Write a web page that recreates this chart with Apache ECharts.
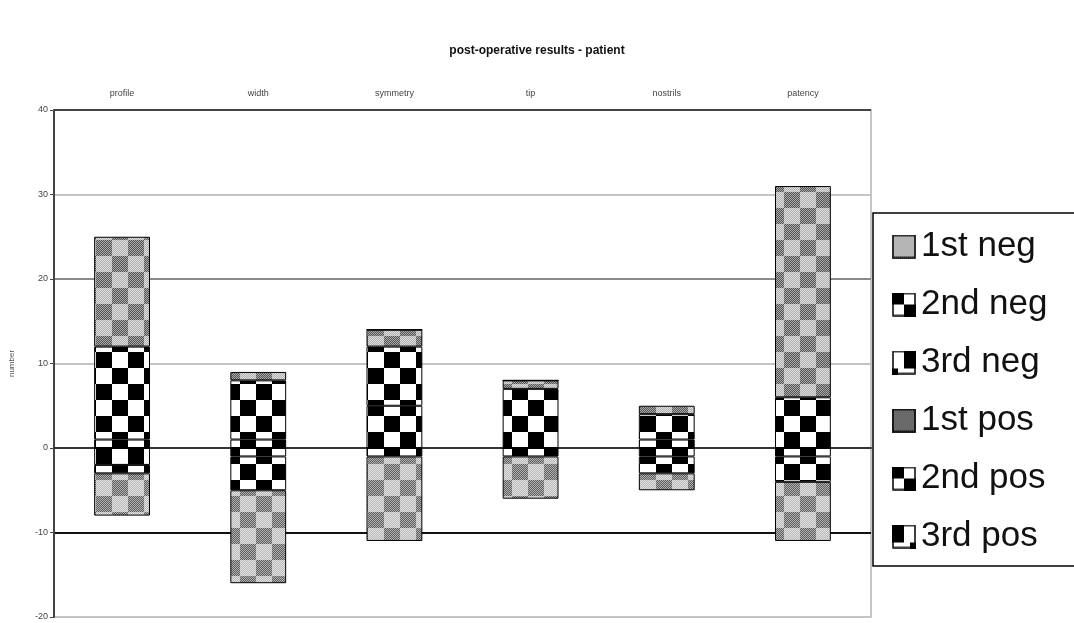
<!DOCTYPE html>
<html>
<head>
<meta charset="utf-8">
<title>post-operative results - patient</title>
<script src="https://cdn.jsdelivr.net/npm/echarts@6/dist/echarts.min.js"></script>
<style>
  html, body { margin: 0; padding: 0; background: #fff; }
  #chart { width: 1074px; height: 623px; }
</style>
</head>
<body>
<div id="chart"></div>
<script>
const categories = ['profile', 'width', 'symmetry', 'tip', 'nostrils', 'patency']

// values (pos stack up from 0, neg stack down from 0)
const firstPos = [13, 1, 2, 1, 1, 25]
const secondPos = [11, 7, 7, 7, 3, 6]
const thirdPos = [1, 1, 5, 0, 1, 0]
const firstNeg = [-5, -11, -10, -5, -2, -7]
const secondNeg = [-1, -4, -1, -1, -2, -3]
const thirdNeg = [-2, -1, 0, 0, -1, -1]

const yTicks = { min: -20, max: 40, interval: 10 }

// ---- fill patterns drawn on small canvases ----
function tile(size, draw) {
  const c = document.createElement('canvas')
  c.width = size
  c.height = size
  draw(c.getContext('2d'), size)
  return c
}

function grayTile(darkA, darkB, lightA, lightB) {
  return tile(32, function (ctx) {
    for (let y = 0; y < 32; y++) {
      for (let x = 0; x < 32; x++) {
        const dark = ((x >> 4) + (y >> 4)) & 1
        const odd = (x + y) & 1
        ctx.fillStyle = dark ? (odd ? darkA : darkB) : (odd ? lightA : lightB)
        ctx.fillRect(x, y, 1, 1)
      }
    }
  })
}

function checkerTile() {
  return tile(32, function (ctx) {
    ctx.fillStyle = '#fff'
    ctx.fillRect(0, 0, 32, 32)
    ctx.fillStyle = '#000'
    ctx.fillRect(0, 0, 16, 16)
    ctx.fillRect(16, 16, 16, 16)
  })
}

const pat = (img) => ({ image: img, repeat: 'repeat' })

const fills = {
  '1st pos': pat(grayTile('#555555', '#a8a8a8', '#b0b0b0', '#dedede')),
  '1st neg': pat(grayTile('#606060', '#b0b0b0', '#b8b8b8', '#e2e2e2')),
  '2nd pos': pat(checkerTile()),
  '2nd neg': pat(checkerTile()),
  '3rd pos': pat(checkerTile()),
  '3rd neg': pat(checkerTile())
}

// legend icons
function icon(draw) {
  const c = tile(24, function (ctx, s) {
    ctx.fillStyle = '#fff'
    ctx.fillRect(0, 0, s, s)
    draw(ctx, s)
    ctx.strokeStyle = '#000'
    ctx.lineWidth = 1.5
    ctx.strokeRect(1, 1, s - 2, s - 2)
  })
  return 'image://' + c.toDataURL()
}
function dots(base, dot) {
  return function (ctx, s) {
    for (let y = 0; y < s; y++) {
      for (let x = 0; x < s; x++) {
        ctx.fillStyle = ((x + y) & 1) ? dot : base
        ctx.fillRect(x, y, 1, 1)
      }
    }
  }
}
const legendIcons = {
  '1st neg': icon(dots('#e0e0e0', '#8a8a8a')),
  '2nd neg': icon(function (ctx) { ctx.fillStyle = '#000'; ctx.fillRect(0, 0, 12, 12); ctx.fillRect(12, 12, 12, 12) }),
  '3rd neg': icon(function (ctx) { ctx.fillStyle = '#000'; ctx.fillRect(12, 0, 12, 18); ctx.fillRect(0, 18, 6, 6) }),
  '1st pos': icon(dots('#9a9a9a', '#3a3a3a')),
  '2nd pos': icon(function (ctx) { ctx.fillStyle = '#000'; ctx.fillRect(0, 0, 12, 12); ctx.fillRect(12, 12, 12, 12) }),
  '3rd pos': icon(function (ctx) { ctx.fillStyle = '#000'; ctx.fillRect(0, 0, 12, 18); ctx.fillRect(18, 18, 6, 6) })
}

const legendOrder = ['1st neg', '2nd neg', '3rd neg', '1st pos', '2nd pos', '3rd pos']
// stacking order: nearest zero first
const stackOrder = [
  ['3rd pos', thirdPos],
  ['2nd pos', secondPos],
  ['1st pos', firstPos],
  ['3rd neg', thirdNeg],
  ['2nd neg', secondNeg],
  ['1st neg', firstNeg]
]

const myChart = echarts.init(document.getElementById('chart'))
const option = {
  backgroundColor: '#fff',
  textStyle: { fontFamily: 'Liberation Sans, Arial, sans-serif' },
  animation: false,
  title: {
    text: 'post-operative results - patient',
    left: 'center',
    top: 40,
    textStyle: { fontSize: 12, fontWeight: 'bold', color: '#111' }
  },
  legend: {
    orient: 'vertical',
    left: 873,
    top: 213,
    padding: [16, 60, 12, 19],
    itemWidth: 24,
    itemHeight: 24,
    itemGap: 23,
    itemTextGap: 14,
    borderColor: '#000',
    borderWidth: 1.5,
    textStyle: { fontSize: 35, color: '#111' },
    data: legendOrder.map(name => ({ name: name, icon: legendIcons[name] }))
  },
  grid: {
    left: 52,
    right: 203,
    top: 110,
    bottom: 6,
    show: true,
    borderColor: '#b4b4b4',
    borderWidth: 1.5
  },
  xAxis: {
    type: 'category',
    position: 'top',
    data: categories,
    axisLine: { lineStyle: { color: '#333', width: 2 } },
    axisTick: { length: 3, lineStyle: { color: '#333' } },
    axisLabel: { fontSize: 9, color: '#444', margin: 12 }
  },
  yAxis: {
    type: 'value',
    min: yTicks.min,
    max: yTicks.max,
    interval: yTicks.interval,
    name: 'number',
    nameLocation: 'middle',
    nameGap: 38,
    nameTextStyle: { fontSize: 8, color: '#555' },
    axisLine: { show: true, lineStyle: { color: '#444', width: 2 } },
    axisTick: { show: true, length: 4, lineStyle: { color: '#444' } },
    axisLabel: { fontSize: 9, color: '#444', margin: 6 },
    splitLine: {
      lineStyle: {
        width: 2,
        color: ['#c4c4c4', '#111', '#555', '#c4c4c4', '#8a8a8a', '#c4c4c4', '#444']
      }
    }
  },
  series: stackOrder.map(function (s) {
    return {
      name: s[0],
      type: 'bar',
      stack: 'total',
      barWidth: '41%',
      data: s[1],
      itemStyle: {
        color: fills[s[0]],
        borderColor: '#000',
        borderWidth: 1
      }
    }
  })
}

myChart.setOption(option)
window.addEventListener('resize', function () {
  myChart.resize()
})
</script>
</body>
</html>
